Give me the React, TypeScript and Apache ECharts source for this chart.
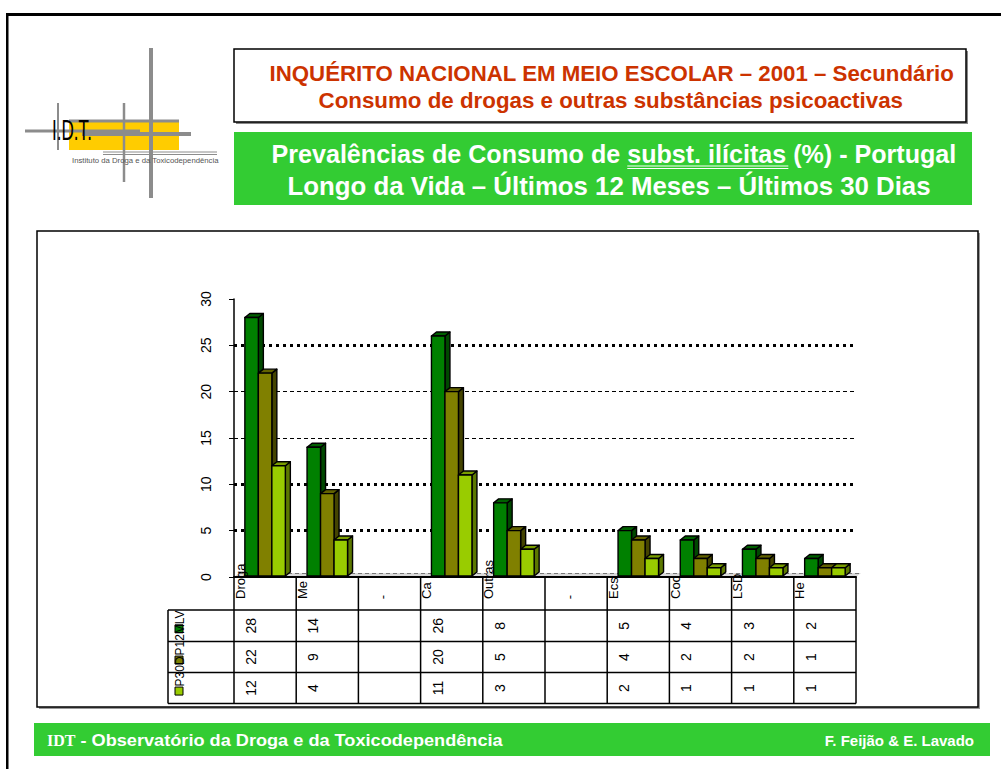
import React, { useEffect, useRef } from 'react';
import * as echarts from 'echarts';

const categories = ['Droga', 'Me', '-', 'Ca', 'Outras', '-', 'Ecs', 'Coc', 'LSD', 'He'];
const seriesNames = ['LV', 'P12M', 'P30D'];
const lvValues = [28, 14, null, 26, 8, null, 5, 4, 3, 2];
const p12mValues = [22, 9, null, 20, 5, null, 4, 2, 2, 1];
const p30dValues = [12, 4, null, 11, 3, null, 2, 1, 1, 1];
const yTicks = [0, 5, 10, 15, 20, 25, 30];
const gridLineValues = [25, 20, 15, 10, 5];
const gridLineHeavy = [true, false, false, true, true];

const titleLines = [
  'INQUÉRITO NACIONAL EM MEIO ESCOLAR – 2001 – Secundário',
  'Consumo de drogas e outras substâncias psicoactivas',
];
const subPrefix = 'Prevalências de Consumo de ';
const subUnderlined = 'subst. ilícitas ';
const subSuffix = '(%) - Portugal';
const subLine2 = 'Longo da Vida – Últimos 12 Meses – Últimos 30 Dias';
const footerLeftA = 'IDT';
const footerLeftB = ' - Observatório da Droga e da Toxicodependência';
const footerRight = 'F. Feijão & E. Lavado';

const palette = [
  { front: '#008000', top: '#006000', side: '#004800' },
  { front: '#808000', top: '#626200', side: '#444400' },
  { front: '#99CC00', top: '#7a9e00', side: '#5c7800' },
];

const SANS = '"Liberation Sans", Arial, sans-serif';
const SERIF = '"Liberation Serif", "Times New Roman", serif';
const G = { left: 234, right: 856, top: 299, bottom: 577 };
const rowLines = [577, 610, 641.5, 672.5, 703.5];
const legendLeft = 168;

let measureCtx: CanvasRenderingContext2D | null = null;
function measure(text: string, font: string): number {
  if (!measureCtx) measureCtx = document.createElement('canvas').getContext('2d');
  measureCtx!.font = font;
  return measureCtx!.measureText(text).width;
}

function txt(x: number, y: number, text: string, o: any = {}) {
  const font = o.font || `${o.weight || 'normal'} ${o.size || 13}px ${o.family || SANS}`;
  return {
    type: 'text',
    x,
    y,
    rotation: o.rotation || 0,
    scaleX: o.scaleX || 1,
    z: o.z || 10,
    silent: true,
    style: {
      text,
      x: 0,
      y: 0,
      font,
      fill: o.color || '#000',
      align: o.align || 'left',
      textAlign: o.align || 'left',
      verticalAlign: o.valign || 'middle',
      textVerticalAlign: o.valign || 'middle',
    },
  };
}

function rect(x: number, y: number, w: number, h: number, style: any, z = 1) {
  return { type: 'rect', z, silent: true, shape: { x, y, width: w, height: h }, style };
}
function line(x1: number, y1: number, x2: number, y2: number, stroke: string, lineWidth: number, z = 5, lineDash?: number[]) {
  return {
    type: 'line', z, silent: true,
    shape: { x1, y1, x2, y2 },
    style: { stroke, lineWidth, lineDash },
  };
}

function fitText(cx: number, y: number, text: string, font: string, width: number, color: string, z = 10) {
  const w = measure(text, font);
  const s = width / w;
  return { el: { ...txt(cx - width / 2, y, text, { font, color, scaleX: s, z }) }, scale: s, left: cx - width / 2 };
}

function buildGraphics() {
  const els: any[] = [];
  // page frame
  els.push(rect(6, 13, 995, 3, { fill: '#000' }, 1));
  els.push(rect(6, 13, 2.5, 756, { fill: '#000' }, 1));

  // logo
  const grey = '#8c8c8c';
  els.push(rect(69, 120, 110, 30, { fill: '#FFCC00' }, 2));
  els.push(line(69, 121, 179, 121, grey, 3, 3));
  els.push(line(151, 48, 151, 198, grey, 4, 4));
  els.push(line(124, 103, 124, 182, grey, 2.5, 4));
  els.push(line(58, 103, 58, 150, grey, 2, 4));
  els.push(line(25, 131, 140, 131, grey, 3, 4));
  els.push(line(82, 134, 191, 134, grey, 4, 4));
  els.push(line(103, 152, 217, 152, grey, 1, 4));
  els.push(line(103, 154.5, 217, 154.5, grey, 1, 4));
  const idtFont = `normal 30px ${SANS}`;
  els.push(txt(52, 130, 'I.D.T.', { font: idtFont, scaleX: 40 / measure('I.D.T.', idtFont), z: 6 }));
  const instFont = `normal 8px ${SANS}`;
  const inst = 'Instituto da Droga e da Toxicodependência';
  els.push(txt(72, 160, inst, { font: instFont, color: '#555', scaleX: 147 / measure(inst, instFont), z: 6 }));

  // title box
  els.push(rect(236, 51, 732, 73, { fill: '#888' }, 1));
  els.push(rect(234, 49, 732, 73, { fill: '#fff', stroke: '#000', lineWidth: 1.5 }, 2));
  const tFont = `bold 22px ${SANS}`;
  els.push(fitText(612, 74, titleLines[0], tFont, 685, '#CC3300').el);
  els.push(fitText(611, 101, titleLines[1], tFont, 585, '#CC3300').el);

  // green subtitle box
  els.push(rect(234, 132, 738, 73, { fill: '#33CC33' }, 2));
  const sFont = `bold 25px ${SANS}`;
  const full1 = subPrefix + subUnderlined + subSuffix;
  const r1 = fitText(614, 154, full1, sFont, 685, '#fff');
  els.push(r1.el);
  const ux1 = r1.left + measure(subPrefix, sFont) * r1.scale;
  const ux2 = r1.left + measure(subPrefix + subUnderlined.trimEnd(), sFont) * r1.scale + 2;
  els.push(line(ux1, 166, ux2, 166, '#fff', 1, 11));
  els.push(line(ux1, 168.5, ux2, 168.5, '#fff', 1, 11));
  els.push(fitText(609, 186, subLine2, sFont, 643, '#fff').el);

  // chart box
  els.push(rect(39, 233, 941, 476, { fill: '#999' }, 1));
  els.push(rect(37, 231, 941, 476, { fill: '#fff', stroke: '#000', lineWidth: 1.5 }, 2));

  // floor
  els.push({
    type: 'polygon', z: 3, silent: true,
    shape: { points: [[G.left, G.bottom], [G.right, G.bottom], [G.right + 5, G.bottom - 4], [G.left + 5, G.bottom - 4]] },
    style: { fill: '#d9d9d9', stroke: null },
  });
  els.push(line(G.left + 5, G.bottom - 3.5, G.right + 5, G.bottom - 3.5, '#777', 1, 3, [4, 3]));

  // data table
  const n = categories.length;
  const cw = (G.right - G.left) / n;
  const tb = rowLines[rowLines.length - 1];
  for (let r = 1; r < rowLines.length; r++) {
    els.push(line(legendLeft, rowLines[r], G.right, rowLines[r], '#000', 1.5, 12));
  }
  els.push(line(legendLeft, rowLines[1], legendLeft, tb, '#000', 1.5, 12));
  for (let i = 0; i <= n; i++) {
    const x = G.left + i * cw;
    els.push(line(x, G.bottom, x, tb, '#000', 1.5, 12));
  }
  const catFont = `normal 13px ${SANS}`;
  const valFont = `normal 14px ${SANS}`;
  categories.forEach((c, i) => {
    const x0 = G.left + i * cw;
    if (c === '-') {
      els.push(txt(x0 + 24, 597, c, { font: catFont, align: 'center', rotation: Math.PI / 2, z: 13 }));
    } else {
      els.push(txt(x0 + 6, 599, c, { font: catFont, align: 'left', rotation: Math.PI / 2, z: 13 }));
    }
  });
  const tableRows = [lvValues, p12mValues, p30dValues];
  tableRows.forEach((vals, r) => {
    const y0 = rowLines[r + 1];
    const y1 = rowLines[r + 2];
    const h = y1 - y0;
    const cy = (y0 + y1) / 2;
    vals.forEach((v, i) => {
      if (v == null) return;
      const x0 = G.left + i * cw;
      els.push(txt(x0 + 17, cy, String(v), { font: valFont, align: 'center', rotation: Math.PI / 2, z: 13 }));
    });
    // legend key
    els.push(rect(175, y0 + h * 0.47, 8, 8, { fill: palette[r].front, stroke: '#000', lineWidth: 1 }, 13));
    els.push(txt(180, y0 + h * 0.45, seriesNames[r], { font: `normal 12px ${SANS}`, align: 'left', rotation: Math.PI / 2, z: 14 }));
  });

  // footer
  els.push(rect(34, 723, 956, 33, { fill: '#33CC33' }, 2));
  const fA = `bold 16px ${SERIF}`;
  const fB = `bold 17px ${SANS}`;
  const fR = `bold 15px ${SANS}`;
  const wA = measure(footerLeftA, fA);
  els.push(txt(47, 740, footerLeftA, { font: fA, color: '#fff' }));
  const wB = measure(footerLeftB, fB);
  els.push(txt(47 + wA, 740, footerLeftB, { font: fB, color: '#fff', scaleX: (456 - wA) / wB }));
  els.push(txt(974, 740, footerRight, { font: fR, color: '#fff', align: 'right' }));
  return els;
}

function make3D(idx: number) {
  const c = palette[idx];
  return (params: any, api: any) => {
    const cat = api.value(0);
    const v = api.value(1);
    if (v == null || isNaN(v)) return null;
    const base = api.coord([cat, 0]);
    const top = api.coord([cat, v]);
    const catW = api.size([1, 0])[0];
    const w = catW * 0.217;
    const x0 = base[0] - 1.5 * w + idx * w;
    const x1 = x0 + w;
    const yb = base[1] - 1;
    const yt = top[1];
    const dx = 5;
    const dy = -4;
    const st = { stroke: '#000', lineWidth: 1.4, lineJoin: 'round' };
    return {
      type: 'group',
      children: [
        { type: 'polygon', shape: { points: [[x1, yb], [x1 + dx, yb + dy], [x1 + dx, yt + dy], [x1, yt]] }, style: { ...st, fill: c.side } },
        { type: 'polygon', shape: { points: [[x0, yt], [x1, yt], [x1 + dx, yt + dy], [x0 + dx, yt + dy]] }, style: { ...st, fill: c.top } },
        { type: 'rect', shape: { x: x0, y: yt, width: w, height: yb - yt }, style: { ...st, fill: c.front } },
      ],
    };
  };
}

export default function App() {
  const ref = useRef<HTMLDivElement>(null);
  useEffect(() => {
    if (!ref.current) return;
    const chart = echarts.init(ref.current, undefined, { renderer: 'svg' });
    const seriesValues = [lvValues, p12mValues, p30dValues];
    const option: any = {
      animation: false,
      backgroundColor: '#fff',
      graphic: { elements: buildGraphics() },
      grid: { left: G.left, top: G.top, width: G.right - G.left, height: G.bottom - G.top, containLabel: false },
      xAxis: {
        type: 'category',
        data: categories,
        axisLine: { show: true, lineStyle: { color: '#000', width: 2 } },
        axisTick: { show: false },
        axisLabel: { show: false },
        splitLine: { show: false },
        z: 11,
      },
      yAxis: {
        type: 'value',
        min: yTicks[0],
        max: yTicks[yTicks.length - 1],
        interval: yTicks[1] - yTicks[0],
        z: 11,
        axisLine: { show: true, lineStyle: { color: '#000', width: 1.5 } },
        axisTick: { show: true, length: 5, lineStyle: { color: '#000', width: 1 } },
        axisLabel: { rotate: 90, margin: 21, color: '#000', fontSize: 14, fontFamily: SANS },
        splitLine: { show: false },
      },
      series: [
        {
          type: 'line',
          name: 'grid',
          data: [],
          z: 3,
          silent: true,
          markLine: {
            silent: true,
            symbol: ['none', 'none'],
            label: { show: false },
            animation: false,
            data: gridLineValues.map((v, i) => ({
              yAxis: v,
              lineStyle: gridLineHeavy[i]
                ? { color: '#000', width: 3, type: [3, 4] }
                : { color: '#000', width: 1, type: [4, 3] },
            })),
          },
        },
        ...seriesValues.map((vals, idx) => ({
          type: 'custom',
          name: seriesNames[idx],
          z: 5 + idx,
          renderItem: make3D(idx),
          encode: { x: 0, y: 1 },
          data: vals.flatMap((v, i) => (v == null ? [] : [[i, v]])),
        })),
      ],
    };
    chart.setOption(option);
    return () => chart.dispose();
  }, []);
  return <div ref={ref} style={{ position: 'absolute', left: 0, top: 0, width: 1001, height: 769 }} />;
}
